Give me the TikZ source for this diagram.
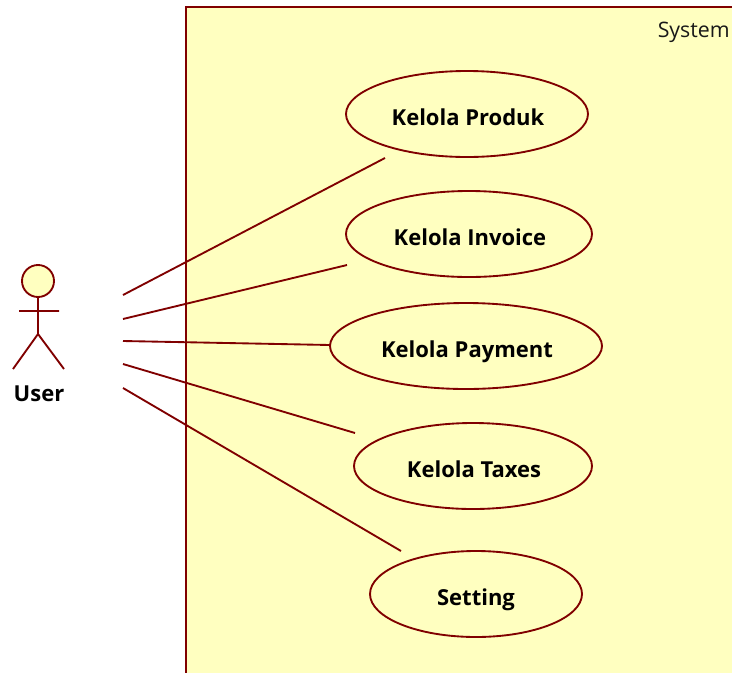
\documentclass[tikz,border=0pt]{standalone}
\usepackage{fontspec}
\setmainfont{Open Sans}
\usetikzlibrary{shapes.geometric}
\definecolor{ln}{RGB}{128,0,0}
\definecolor{fl}{RGB}{255,255,192}
\tikzset{x=0.75pt,y=-0.75pt,
 uc/.style={ellipse,draw=ln,fill=fl,line width=1.4pt,inner sep=0},
 lab/.style={anchor=base,font=\fontsize{16.5}{19}\selectfont\bfseries,text=black,inner sep=0},
 link/.style={draw=ln,line width=1.4pt}}
\begin{document}
\begin{tikzpicture}
\useasboundingbox (0,0) rectangle (732,672);
\path[fill=white] (0,0) rectangle (732,672);
\node[draw=ln,fill=fl,line width=1.6pt,anchor=north west,minimum width=552*0.75pt,minimum height=670*0.75pt,inner sep=0] (sys) at (185.1,5.9) {};
\node[anchor=base east,font=\fontsize{16}{18}\selectfont,text=black!90,inner sep=0] (syslabel) at (730,37) {System};
\node[uc,minimum width=242*0.75pt,minimum height=86*0.75pt] (u1) at (467,114) {};
\node[lab] (t1) at (468,125) {Kelola Produk};
\node[uc,minimum width=246*0.75pt,minimum height=86*0.75pt] (u2) at (469,234) {};
\node[lab] (t2) at (470,245) {Kelola Invoice};
\node[uc,minimum width=272*0.75pt,minimum height=86*0.75pt] (u3) at (466,346) {};
\node[lab] (t3) at (467,357) {Kelola Payment};
\node[uc,minimum width=238*0.75pt,minimum height=86*0.75pt] (u4) at (473,466) {};
\node[lab] (t4) at (474,477) {Kelola Taxes};
\node[uc,minimum width=212*0.75pt,minimum height=86*0.75pt] (u5) at (476,594) {};
\node[lab] (t5) at (476,605) {Setting};
% actor
\node[circle,draw=ln,fill=fl,line width=1.4pt,minimum size=32*0.75pt,inner sep=0] (head) at (38,281) {};
\coordinate (hip) at (38,334);
\coordinate (al) at (19,311);
\coordinate (ar) at (59,311);
\coordinate (fl1) at (13,369);
\coordinate (fr1) at (64,369);
\draw[link] (head) -- (hip) (al) -- (ar) (fl1) -- (hip) -- (fr1);
\node[lab] (user) at (39,401) {User};
\coordinate (a1) at (123,295); \coordinate (b1) at (385,158);
\coordinate (a2) at (123,319); \coordinate (b2) at (347,265);
\coordinate (a3) at (123,341); \coordinate (b3) at (330,345);
\coordinate (a4) at (123,364); \coordinate (b4) at (355,433);
\coordinate (a5) at (123,388); \coordinate (b5) at (401,551);
\draw[link] (a1)--(b1) (a2)--(b2) (a3)--(b3) (a4)--(b4) (a5)--(b5);
\end{tikzpicture}
\end{document}
